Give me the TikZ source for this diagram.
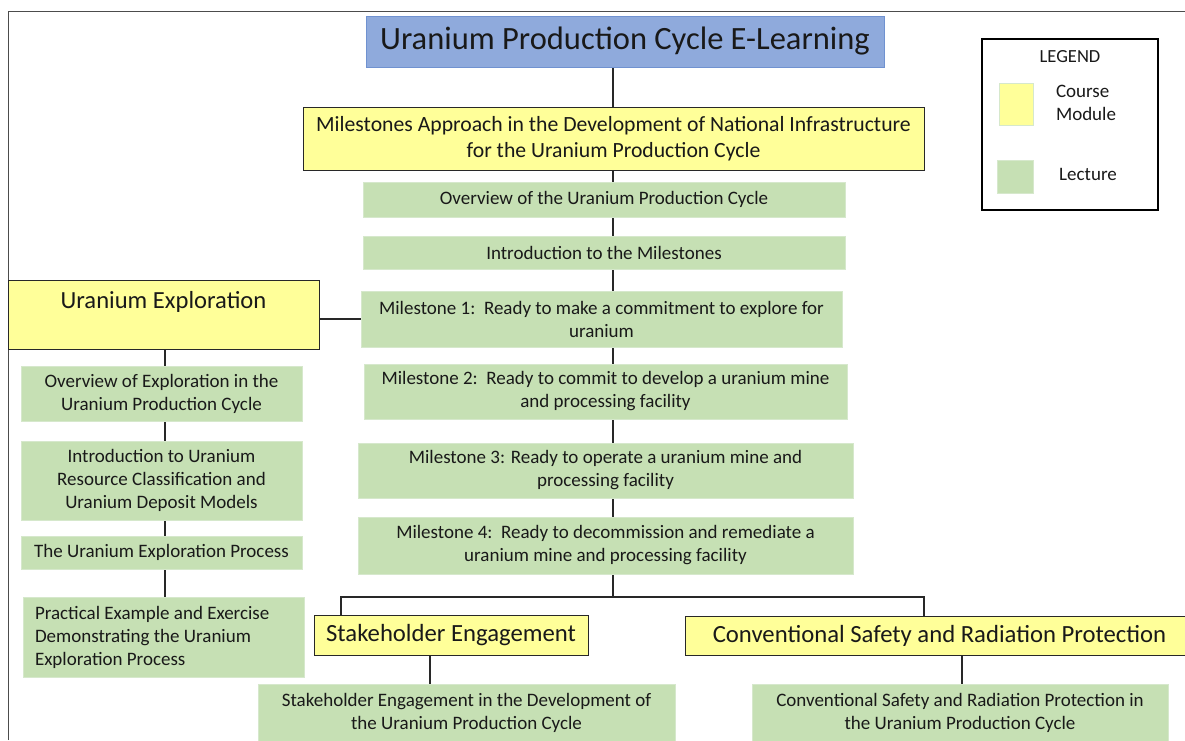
\documentclass[tikz,border=0pt]{standalone}
\usepackage{fontspec}
\setmainfont{Carlito}
\usetikzlibrary{backgrounds}
\definecolor{ylw}{RGB}{255,255,153}
\definecolor{grn}{RGB}{198,224,180}
\definecolor{grnedge}{RGB}{214,232,204}
\definecolor{ttl}{RGB}{143,170,220}
\definecolor{ttledge}{RGB}{112,146,208}
\definecolor{linkc}{RGB}{40,40,40}
\definecolor{txt}{RGB}{25,25,25}
\begin{document}
\begin{tikzpicture}[x=1pt,y=-1pt,
  box/.style={rectangle, inner sep=0pt, outer sep=0pt, align=center, text=txt},
  module/.style={box, fill=ylw, draw=linkc, line width=1pt},
  lecture/.style={box, fill=grn, draw=grnedge, line width=1pt,
     font=\fontsize{19}{23}\selectfont},
  link/.style={draw=linkc, line width=1.5pt},
  swatch/.style={rectangle, inner sep=0pt, draw=grnedge, line width=0.8pt}]
\clip (0,0) rectangle (1185,740);

% title
\node[box, fill=ttl, draw=ttledge, line width=1pt, minimum width=518, minimum height=51,
  font=\fontsize{32.5}{36}\selectfont] (title) at (625,41.5) {Uranium Production Cycle E-Learning};

% legend
\node[box, draw=black, line width=2pt, minimum width=176, minimum height=171] (legend) at (1070,124.5) {};
\node[box, font=\fontsize{18.5}{22}\selectfont] (legtitle) at (1070,57) {LEGEND};
\node[swatch, fill=ylw, minimum width=34, minimum height=42] (swy) at (1016,104) {};
\node[box, anchor=west, align=flush left, font=\fontsize{19}{23}\selectfont] (legmod) at (1056,102.5) {Course\\Module};
\node[swatch, fill=grn, minimum width=36, minimum height=33] (swg) at (1015,176.5) {};
\node[box, font=\fontsize{19}{23}\selectfont] (leglec) at (1088,174) {Lecture};

% central column
\node[module, minimum width=621, minimum height=63, font=\fontsize{21.7}{26}\selectfont] (ma) at (613.5,138.5)
  {Milestones Approach in the Development of National Infrastructure\\for the Uranium Production Cycle};
\node[lecture, minimum width=482, minimum height=35] (l1) at (604,199.5) {Overview of the Uranium Production Cycle};
\node[lecture, minimum width=482, minimum height=33] (l2) at (604,252.5) {Introduction to the Milestones};
\node[lecture, minimum width=481, minimum height=56] (m1) at (601.5,319) {Milestone 1:\ \ Ready to make a commitment to explore for\\uranium};
\node[lecture, minimum width=483, minimum height=55] (m2) at (605.5,391.5) {Milestone 2:\ \ Ready to commit to develop a uranium mine\\and processing facility};
\node[lecture, minimum width=495, minimum height=55] (m3) at (605.5,470.5) {Milestone 3: Ready to operate a uranium mine and\\processing facility};
\node[lecture, minimum width=495, minimum height=57] (m4) at (605.5,545.5) {Milestone 4:\ \ Ready to decommission and remediate a\\uranium mine and processing facility};

% left column
\node[module, minimum width=311, text height=28, text depth=41, font=\fontsize{24.6}{28}\selectfont] (ue) at (163.5,314.5) {Uranium Exploration};
\node[lecture, minimum width=281, minimum height=55] (e1) at (161.5,393.5) {Overview of Exploration in the\\Uranium Production Cycle};
\node[lecture, minimum width=281, minimum height=79] (e2) at (161.5,480.5) {Introduction to Uranium\\Resource Classification and\\Uranium Deposit Models};
\node[lecture, minimum width=281, minimum height=33] (e3) at (161.5,552.5) {The Uranium Exploration Process};
\node[lecture, text width=257, inner xsep=12, align=flush left, minimum height=80] (e4) at (163.5,637) {Practical Example and Exercise\\Demonstrating the Uranium\\Exploration Process};

% bottom modules
\node[module, minimum width=274, minimum height=40, font=\fontsize{24.7}{28}\selectfont] (sh) at (451,635) {Stakeholder Engagement};
\node[module, minimum width=509, minimum height=39, font=\fontsize{24.7}{28}\selectfont] (cs) at (939.5,635.5) {Conventional Safety and Radiation Protection};
\node[lecture, minimum width=417, minimum height=57] (shl) at (466.5,712.5) {Stakeholder Engagement in the Development of\\the Uranium Production Cycle};
\node[lecture, minimum width=416, minimum height=57] (csl) at (960,712.5) {Conventional Safety and Radiation Protection in\\the Uranium Production Cycle};

\coordinate (split) at (613,597);
\coordinate (shdrop) at (341,597);
\coordinate (csdrop) at (924,597);
\coordinate (shlink) at (430,655);
\coordinate (cslink) at (962,655);
\coordinate (uecol) at (165,349);

\begin{scope}[on background layer]
\fill[white] (0,0) rectangle (1185,740);
\draw[draw=black!70, line width=1pt] (8,740) -- (8,11) -- (1185,11);
\draw[link] (split |- title.south) -- (split);
\draw[link] (shdrop |- sh.north) -- (shdrop) -- (csdrop) -- (csdrop |- cs.north);
\draw[link] (ue.east |- m1.west) -- (m1.west);
\draw[link] (uecol) -- (uecol |- e4.north);
\draw[link] (shlink) -- (shlink |- shl.north);
\draw[link] (cslink) -- (cslink |- csl.north);
\end{scope}
\end{tikzpicture}
\end{document}
